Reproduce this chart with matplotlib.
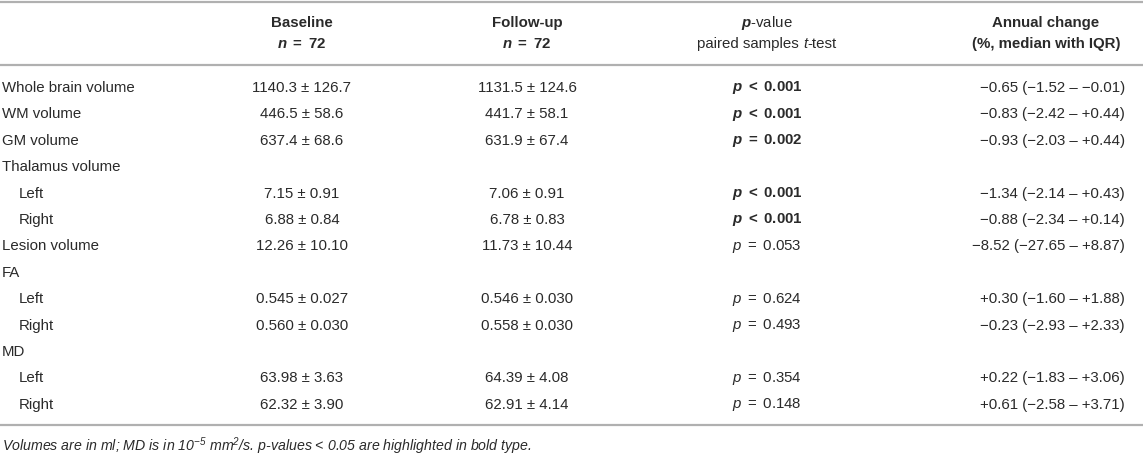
import matplotlib
matplotlib.use("Agg")
import matplotlib.pyplot as plt
from matplotlib.offsetbox import TextArea, HPacker, AnnotationBbox

plt.rcParams['font.family'] = ['Liberation Sans', 'DejaVu Sans']
plt.rcParams['mathtext.fontset'] = 'custom'
plt.rcParams['mathtext.rm'] = 'Liberation Sans'
plt.rcParams['mathtext.it'] = 'Liberation Sans:italic'
plt.rcParams['mathtext.bf'] = 'Liberation Sans:bold'
plt.rcParams['mathtext.bfit'] = 'Liberation Sans:italic:bold'
plt.rcParams['mathtext.default'] = 'regular'

# table content
labels = ["Whole brain volume", "WM volume", "GM volume", "Thalamus volume", "Left", "Right",
          "Lesion volume", "FA", "Left", "Right", "MD", "Left", "Right"]
indent = [0, 0, 0, 0, 1, 1, 0, 0, 1, 1, 0, 1, 1]
base_mean = ["1140.3", "446.5", "637.4", "", "7.15", "6.88", "12.26", "", "0.545", "0.560", "", "63.98", "62.32"]
base_sd = ["126.7", "58.6", "68.6", "", "0.91", "0.84", "10.10", "", "0.027", "0.030", "", "3.63", "3.90"]
fu_mean = ["1131.5", "441.7", "631.9", "", "7.06", "6.78", "11.73", "", "0.546", "0.558", "", "64.39", "62.91"]
fu_sd = ["124.6", "58.1", "67.4", "", "0.91", "0.83", "10.44", "", "0.030", "0.030", "", "4.08", "4.14"]
p_op = ["<", "<", "=", "", "<", "<", "=", "", "=", "=", "", "=", "="]
p_val = ["0.001", "0.001", "0.002", "", "0.001", "0.001", "0.053", "", "0.624", "0.493", "", "0.354", "0.148"]
chg_med = [-0.65, -0.83, -0.93, None, -1.34, -0.88, -8.52, None, 0.30, -0.23, None, 0.22, 0.61]
chg_q1 = [-1.52, -2.42, -2.03, None, -2.14, -2.34, -27.65, None, -1.60, -2.93, None, -1.83, -2.58]
chg_q3 = [-0.01, 0.44, 0.44, None, 0.43, 0.14, 8.87, None, 1.88, 2.33, None, 3.06, 3.71]
n_base = 72
n_fu = 72
footnote = r"Volumes are in ml; MD is in $10^{-5}$ mm$^{2}$/s. p-values < 0.05 are highlighted in bold type."

W, H = 1143, 456
fig = plt.figure(figsize=(W / 100, H / 100), dpi=100)
ax = fig.add_axes([0, 0, 1, 1])
ax.set_xlim(0, W)
ax.set_ylim(H, 0)
ax.axis('off')

txt = '#2a2a2a'
rule = '#b0b0b0'
fs = 10.8

def sgn(v):
    return f"{v:+.2f}".replace("-", "\u2212")

# columns
x_lab, x_ind = 2, 19
x_base, x_fu, x_p, x_chg_h, x_chg = 302, 527, 767, 1046, 1125
y_h1, y_h2 = 23, 44
y0, dy = 88, 26.4

for y in (3, 66, 426):
    ax.axhline(y, color=rule, lw=1.6)

hd = dict(ha='center', va='center', fontsize=fs, color=txt)
ax.text(x_base, y_h1, "Baseline", fontweight='bold', **hd)
ax.text(x_base, y_h2, r"$\mathbfit{n}\ \mathbf{=}\ \mathbf{%d}$" % n_base, **hd)
ax.text(x_fu, y_h1, "Follow-up", fontweight='bold', **hd)
ax.text(x_fu, y_h2, r"$\mathbfit{n}\ \mathbf{=}\ \mathbf{%d}$" % n_fu, **hd)
ax.text(x_p, y_h1, r"$\mathbfit{p}\mathbf{\text{-value}}$", **hd)
tp = dict(fontsize=fs, color=txt)
box = HPacker(children=[TextArea("paired samples", textprops=tp),
                        HPacker(children=[TextArea("t", textprops=dict(style='italic', **tp)),
                                          TextArea("-test", textprops=tp)], sep=0, pad=0)],
              sep=3, pad=0, align='baseline')
ax.add_artist(AnnotationBbox(box, (x_p, y_h2), xycoords='data', frameon=False, pad=0,
                             box_alignment=(0.5, 0.5)))
ax.text(x_chg_h, y_h1, "Annual change", fontweight='bold', **hd)
ax.text(x_chg_h, y_h2, "(%, median with IQR)", fontweight='bold', **hd)

for i, lab in enumerate(labels):
    y = y0 + i * dy
    ax.text(x_ind if indent[i] else x_lab, y, lab, ha='left', va='center', fontsize=fs, color=txt)
    if not base_mean[i]:
        continue
    ax.text(x_base, y, f"{base_mean[i]} \u00b1 {base_sd[i]}", ha='center', va='center', fontsize=fs, color=txt)
    ax.text(x_fu, y, f"{fu_mean[i]} \u00b1 {fu_sd[i]}", ha='center', va='center', fontsize=fs, color=txt)
    if float(p_val[i]) < 0.05:
        s = r"$\mathbfit{p}\ \mathbf{%s}\ \mathbf{%s}$" % (p_op[i], p_val[i])
    else:
        s = r"$\mathit{p}\ \mathrm{%s}\ \mathrm{%s}$" % (p_op[i], p_val[i])
    ax.text(x_p, y, s, ha='center', va='center', fontsize=fs, color=txt)
    s = f"{sgn(chg_med[i])} ({sgn(chg_q1[i])} \u2013 {sgn(chg_q3[i])})"
    ax.text(x_chg, y, s, ha='right', va='center', fontsize=fs, color=txt)

ax.text(x_lab, 446, footnote, ha='left', va='center', fontsize=10.2, style='italic', color=txt)

fig.savefig("out.png", dpi=100)
